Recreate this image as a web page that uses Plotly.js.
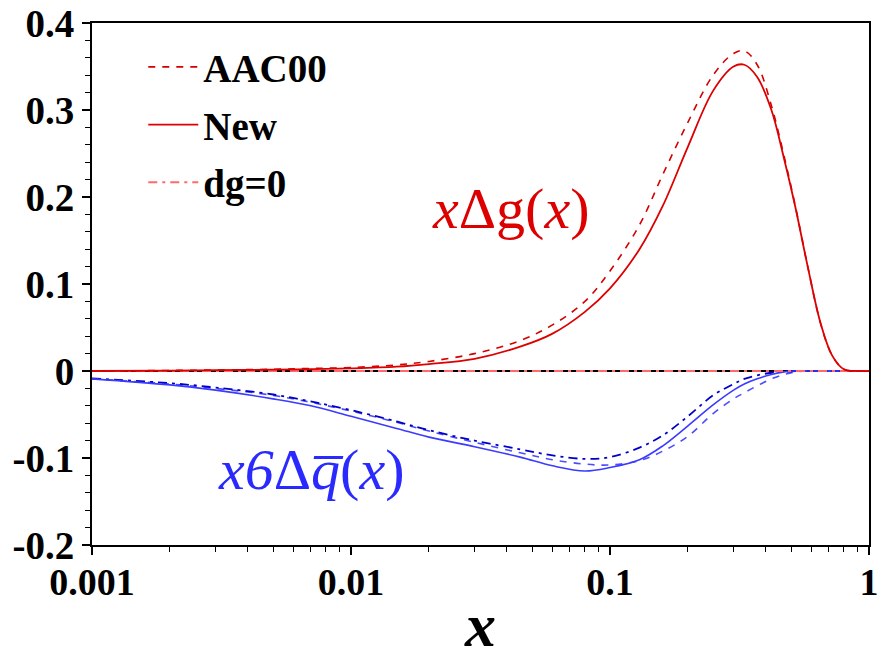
<!DOCTYPE html>
<html>
<head>
<meta charset="utf-8">
<script src="https://cdn.plot.ly/plotly-3.0.1.min.js"></script>
<style>html,body{margin:0;padding:0;background:#fff;}#chart{width:885px;height:659px;}</style>
</head>
<body>
<div id="chart"></div>
<script>
// Data
const xVals = [0.001, 0.002, 0.003, 0.005, 0.007, 0.01, 0.015, 0.02, 0.03, 0.045, 0.06, 0.08, 0.1, 0.13, 0.16, 0.2, 0.25, 0.3, 0.33, 0.37, 0.42, 0.47, 0.52, 0.58, 0.65, 0.72, 0.8, 0.9, 1.0];

// x*Delta g(x)
const gAAC00 = [0.0, 0.0006, 0.0012, 0.002, 0.003, 0.004, 0.007, 0.011, 0.020, 0.035, 0.053, 0.080, 0.115, 0.168, 0.226, 0.286, 0.340, 0.365, 0.368, 0.352, 0.305, 0.247, 0.189, 0.120, 0.055, 0.018, 0.002, 0.0, 0.0];
const gNew   = [0.0, 0.0005, 0.001, 0.0015, 0.002, 0.003, 0.005, 0.008, 0.014, 0.028, 0.043, 0.068, 0.095, 0.140, 0.190, 0.258, 0.322, 0.350, 0.352, 0.338, 0.300, 0.244, 0.188, 0.120, 0.055, 0.018, 0.002, 0.0, 0.0];
const gDg0   = [0, 0, 0, 0, 0, 0, 0, 0, 0, 0, 0, 0, 0, 0, 0, 0, 0, 0, 0, 0, 0, 0, 0, 0, 0, 0, 0, 0, 0];

// x*6*Delta qbar(x)
const qAAC00 = [-0.009, -0.015, -0.020, -0.028, -0.036, -0.046, -0.059, -0.069, -0.082, -0.094, -0.102, -0.107, -0.108, -0.103, -0.092, -0.075, -0.049, -0.032, -0.025, -0.017, -0.009, -0.004, -0.001, 0.0, 0.0, 0.0, 0.0, 0.0, 0.0];
const qNew   = [-0.009, -0.016, -0.022, -0.032, -0.040, -0.052, -0.066, -0.076, -0.087, -0.099, -0.109, -0.115, -0.111, -0.102, -0.086, -0.063, -0.039, -0.022, -0.015, -0.009, -0.004, -0.001, 0.0, 0.0, 0.0, 0.0, 0.0, 0.0, 0.0];
const qDg0   = [-0.0085, -0.014, -0.019, -0.027, -0.035, -0.045, -0.058, -0.068, -0.080, -0.090, -0.097, -0.101, -0.099, -0.088, -0.074, -0.052, -0.028, -0.015, -0.009, -0.005, -0.002, -0.001, 0.0, 0.0, 0.0, 0.0, 0.0, 0.0, 0.0];

const legendNames = ["AAC00", "New", "dg=0"];
const xTickVals = [0.001, 0.01, 0.1, 1];
const xTickText = ["0.001", "0.01", "0.1", "1"];
const yTickVals = [-0.2, -0.1, 0, 0.1, 0.2, 0.3, 0.4];
const yTickText = ["-0.2", "-0.1", "0", "0.1", "0.2", "0.3", "0.4"];

const DASH = "7px,7px";
const DASHDOT = "9px,5px,3px,5px";

const traces = [
  {x: xVals, y: qAAC00, mode: "lines", line: {color: "#4d4dff", width: 1.6, dash: DASH, shape: "spline"}, showlegend: false, hoverinfo: "skip"},
  {x: xVals, y: qDg0, mode: "lines", line: {color: "#0000c8", width: 1.8, dash: DASHDOT, shape: "spline"}, showlegend: false, hoverinfo: "skip"},
  {x: xVals, y: qNew, mode: "lines", line: {color: "#3b3bff", width: 1.6, shape: "spline"}, showlegend: false, hoverinfo: "skip"},
  {x: xVals, y: gDg0, mode: "lines", name: legendNames[2], legendgroup: "c", legendrank: 3, line: {color: "#ff6a6a", width: 1.8, dash: DASHDOT}},
  {x: xVals, y: gAAC00, mode: "lines", name: legendNames[0], legendgroup: "a", legendrank: 1, line: {color: "#d40000", width: 1.6, dash: DASH, shape: "spline"}},
  {x: xVals, y: gNew, mode: "lines", name: legendNames[1], legendgroup: "b", legendrank: 2, line: {color: "#dd0000", width: 1.8, shape: "spline"}}
];

const FF = "Liberation Serif";

const layout = {
  width: 885, height: 659,
  font: {family: FF, color: "#000"},
  margin: {l: 92, r: 16, t: 23, b: 114},
  paper_bgcolor: "#fff", plot_bgcolor: "#fff",
  showlegend: true,
  legend: {
    x: 0.066, y: 0.977, xanchor: "left", yanchor: "top",
    bgcolor: "rgba(0,0,0,0)", borderwidth: 0,
    font: {family: FF, size: 39, color: "#000", weight: "bold"},
    tracegroupgap: 4, traceorder: "grouped", itemwidth: 50
  },
  xaxis: {
    type: "log", range: [-3, 0],
    tickvals: xTickVals, ticktext: xTickText,
    ticks: "outside", ticklen: 8, tickwidth: 1.5, tickcolor: "#000",
    ticklabelstandoff: -6,
    minor: {ticks: "outside", ticklen: 5, tickwidth: 1, tickcolor: "#000", dtick: "D1", showgrid: false},
    showgrid: false, zeroline: false,
    showline: true, linecolor: "#000", linewidth: 2, mirror: true,
    tickfont: {family: FF, size: 38, color: "#000", weight: "bold"},
    title: {text: "<b><i>x</i></b>", font: {family: FF, size: 62, color: "#000"}, standoff: 6}
  },
  yaxis: {
    range: [-0.2, 0.4],
    tickvals: yTickVals, ticktext: yTickText,
    ticks: "outside", ticklen: 8, tickwidth: 1.5, tickcolor: "#000",
    minor: {ticks: "outside", ticklen: 5, tickwidth: 1, tickcolor: "#000", dtick: 0.02, showgrid: false},
    showgrid: false, zeroline: true, zerolinecolor: "#000", zerolinewidth: 1.5,
    showline: true, linecolor: "#000", linewidth: 2, mirror: true,
    tickfont: {family: FF, size: 39, color: "#000", weight: "bold"}
  },
  annotations: [
    {xref: "paper", yref: "paper", x: 0.538, y: 0.645, xanchor: "center", yanchor: "middle", showarrow: false,
     text: "<i>x</i>Δg(<i>x</i>)", font: {family: FF, size: 58, color: "#dd0000"}},
    {xref: "paper", yref: "paper", x: 0.282, y: 0.144, xanchor: "center", yanchor: "middle", showarrow: false,
     text: "<i>x6</i>Δ<i>q̅</i>(<i>x</i>)", font: {family: FF, size: 58, color: "#2a2aff"}}
  ]
};

Plotly.newPlot("chart", traces, layout, {displayModeBar: false, staticPlot: true});
</script>
</body>
</html>
